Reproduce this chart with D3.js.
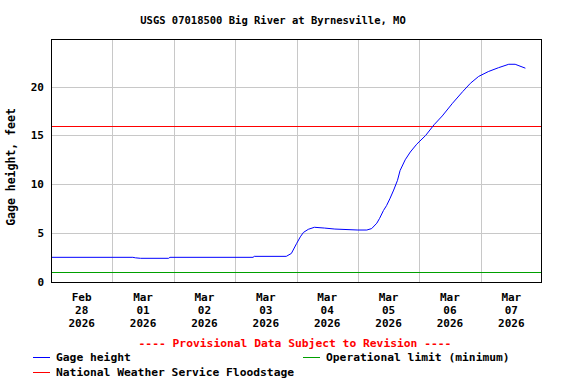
<!DOCTYPE html>
<html><head><meta charset="utf-8">
<script src="https://cdn.jsdelivr.net/npm/d3@7"></script>
<style>
body{margin:0;background:#fff;}
text{font-family:"DejaVu Sans Mono",monospace;font-weight:bold;}
</style></head>
<body><svg id="c" width="576" height="384"></svg>
<script>
const title = "USGS 07018500 Big River at Byrnesville, MO";
const yLabel = "Gage height, feet";
const provisional = "---- Provisional Data Subject to Revision ----";
const yTicks = [0, 5, 10, 15, 20];
const dayTicks = ["2026-02-28","2026-03-01","2026-03-02","2026-03-03","2026-03-04","2026-03-05","2026-03-06","2026-03-07","2026-03-08"];
const dayLabels = [["Feb","28","2026"],["Mar","01","2026"],["Mar","02","2026"],["Mar","03","2026"],["Mar","04","2026"],["Mar","05","2026"],["Mar","06","2026"],["Mar","07","2026"]];
// hours since 2026-02-28 00:00 and gage height (ft)
const hours = [0,32,33,35,46,46.5,79,79.5,92,94,96,97.5,98.7,100.6,103,107,111,120,123.5,125.4,127.4,128.5,130,131.2,132.5,134,135.5,136.5,138.5,140.5,143,146.5,149.8,153,157,161,164,167.2,171,175,179,181.5,183,185.5];
const gage = [2.5,2.5,2.45,2.4,2.4,2.5,2.5,2.6,2.6,2.9,3.9,4.6,5.05,5.37,5.58,5.5,5.4,5.3,5.3,5.45,6.0,6.5,7.3,7.8,8.5,9.4,10.4,11.4,12.5,13.3,14.1,15.0,16.1,17.0,18.3,19.5,20.35,21.05,21.55,21.95,22.3,22.3,22.15,21.9];
const floodStage = 16;
const operationalLimit = 1;
const legendItems = [["Gage height","#0000ff"],["Operational limit (minimum)","#00a000"],["National Weather Service Floodstage","#ff0000"]];

const svg = d3.select("#c");
const parse = d3.utcParse("%Y-%m-%d");
const t0 = parse(dayTicks[0]);
const x = d3.scaleUtc().domain([t0, parse(dayTicks[dayTicks.length-1])]).range([51, 542]);
const y = d3.scaleLinear().domain([0, 20]).range([281.7, 86.7]);
const L = 51, R = 542, T = 39, B = 283;

svg.append("text").attr("x", 273).attr("y", 24).attr("text-anchor","middle").attr("font-size","10.5px").text(title);

// gridlines
svg.append("g").selectAll("line").data(yTicks).join("line")
  .attr("x1", L).attr("x2", R).attr("y1", d=>Math.round(y(d))+0.5).attr("y2", d=>Math.round(y(d))+0.5)
  .attr("stroke","#c8c8c8");
svg.append("g").selectAll("line").data(dayTicks.slice(1,-1)).join("line")
  .attr("x1", d=>Math.round(x(parse(d)))+0.5).attr("x2", d=>Math.round(x(parse(d)))+0.5).attr("y1", T).attr("y2", B)
  .attr("stroke","#c8c8c8");

// reference lines
svg.append("line").attr("x1",L).attr("x2",R).attr("y1",Math.round(y(floodStage))+0.5).attr("y2",Math.round(y(floodStage))+0.5).attr("stroke","#ff0000");
svg.append("line").attr("x1",L).attr("x2",R).attr("y1",Math.round(y(operationalLimit))+0.5).attr("y2",Math.round(y(operationalLimit))+0.5).attr("stroke","#00a000");

// data line
const pts = hours.map((h,i)=>[new Date(t0.getTime()+h*3600e3), gage[i]]);
svg.append("path").datum(pts)
  .attr("d", d3.line().x(d=>x(d[0])).y(d=>y(d[1])))
  .attr("fill","none").attr("stroke","#0000ff").attr("stroke-width",1);

// frame
svg.append("rect").attr("x",L+0.5).attr("y",T+0.5).attr("width",R-L-1).attr("height",B-T-1)
  .attr("fill","none").attr("stroke","#000").attr("stroke-width",1);

// y tick labels
svg.append("g").selectAll("text").data(yTicks).join("text")
  .attr("x", 44).attr("y", d=>y(d)+4).attr("text-anchor","end").attr("font-size","11px").text(d=>d);

// y label
svg.append("text").attr("transform","translate(15,167) rotate(-90)").attr("text-anchor","middle").attr("font-size","11.5px").text(yLabel);

// x labels centered at noon
const halfDay = 12*3600e3;
const xl = svg.append("g");
dayLabels.forEach((lab,i)=>{
  const cx = x(new Date(parse(dayTicks[i]).getTime()+halfDay));
  lab.forEach((s,j)=>{
    xl.append("text").attr("x",cx).attr("y",301+j*13.2).attr("text-anchor","middle").attr("font-size","11px").text(s);
  });
});

svg.append("text").attr("x",295).attr("y",347).attr("text-anchor","middle").attr("font-size","11.3px").attr("fill","#ff0000").text(provisional);

// legend
const legPos = [[33,357],[303,357],[33,372]];
legendItems.forEach((it,i)=>{
  const [lx,ly] = legPos[i];
  svg.append("line").attr("x1",lx).attr("x2",lx+17).attr("y1",ly+0.5).attr("y2",ly+0.5).attr("stroke",it[1]);
  svg.append("text").attr("x",lx+23).attr("y",ly+4).attr("font-size","11.3px").text(it[0]);
});
</script></body></html>
